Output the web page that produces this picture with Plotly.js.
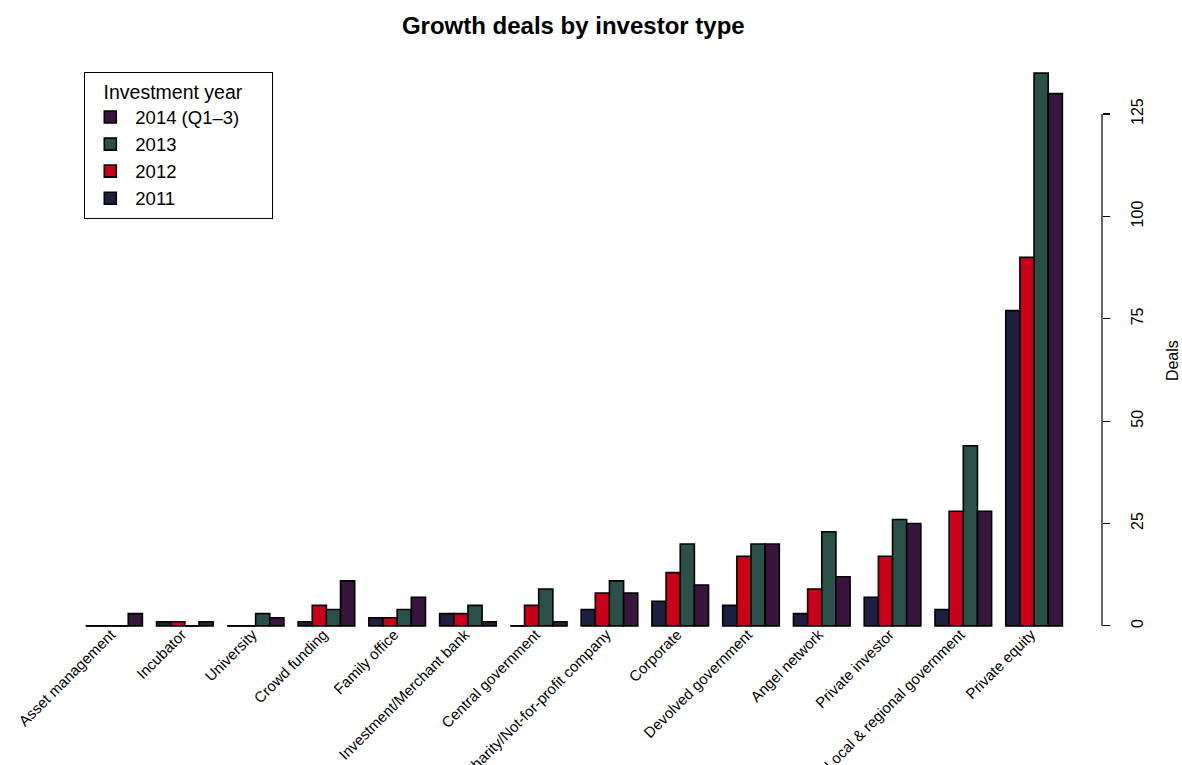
<!DOCTYPE html>
<html>
<head>
<meta charset="utf-8">
<script src="https://cdn.plot.ly/plotly-3.0.1.min.js"></script>
<style>html,body{margin:0;padding:0;background:#fff;}#chart{width:1182px;height:765px;}</style>
</head>
<body>
<div id="chart"></div>
<script>
const categories = ["Asset management","Incubator","University","Crowd funding","Family office","Investment/Merchant bank","Central government","Charity/Not-for-profit company","Corporate","Devolved government","Angel network","Private investor","Local & regional government","Private equity"];
const years = ["2011","2012","2013","2014 (Q1\u20133)"];
const deals2011 = [0,1,0,1,2,3,0,4,6,5,3,7,4,77];
const deals2012 = [0,1,0,5,2,3,5,8,13,17,9,17,28,90];
const deals2013 = [0,0,3,4,4,5,9,11,20,20,23,26,44,135];
const deals2014 = [3,1,2,11,7,1,1,8,10,20,12,25,28,130];
const colors = ["#1c1f41","#cb0019","#2a5149","#38143e"];
const yTicks = [0,25,50,75,100,125];

const series = [deals2011, deals2012, deals2013, deals2014];
const font = "Liberation Sans, Arial, Helvetica, sans-serif";
const BARGAP = 0.2;
const traces = series.map((vals, i) => ({
  type: "bar",
  name: years[i],
  x: categories,
  y: vals,
  marker: {color: colors[i], line: {color: "#000", width: 1.6}},
  hoverinfo: "x+y+name"
}));

// zero-height bars are drawn by R as a flat outline; mimic with line shapes at y = 0
const barW = (1 - BARGAP) / series.length;
const zeroShapes = [];
series.forEach((vals, i) => {
  vals.forEach((v, c) => {
    if (v === 0) {
      const x0 = c - (1 - BARGAP) / 2 + i * barW;
      zeroShapes.push({type: "line", xref: "x", yref: "y", x0: x0, x1: x0 + barW, y0: v, y1: v,
        line: {color: "#000", width: 1.6}});
    }
  });
});

const layout = {
  width: 1182, height: 765,
  margin: {l: 32, r: 80, t: 51, b: 117},
  paper_bgcolor: "#fff", plot_bgcolor: "#fff",
  font: {family: font, color: "#000"},
  title: {text: "<b>Growth deals by investor type</b>", font: {size: 24, family: font, color: "#000"}, x: 0.485, xanchor: "center", y: 0.967, yanchor: "middle"},
  barmode: "group",
  bargap: BARGAP,
  bargroupgap: 0,
  showlegend: true,
  legend: {
    x: 0.0486, y: 0.965, xanchor: "left", yanchor: "top",
    bordercolor: "#000", borderwidth: 1.3, bgcolor: "#fff",
    traceorder: "reversed",
    itemwidth: 40,
    font: {size: 18.5, family: font, color: "#000"},
    title: {text: "\u00a0\u00a0\u00a0Investment year\u00a0\u00a0\u00a0\u00a0\u00a0", font: {size: 19.5, family: font, color: "#000"}}
  },
  xaxis: {
    type: "category",
    range: [-1.16, 13.96],
    showgrid: false, zeroline: false, showline: false,
    ticks: "",
    tickangle: -45,
    ticklabelstandoff: -26,
    ticklabelshift: -3,
    tickfont: {size: 15, family: font, color: "#000"},
    fixedrange: true
  },
  yaxis: {
    side: "right",
    range: [-5.4, 140.4],
    showgrid: false, zeroline: false, showline: false,
    tickvals: yTicks,
    ticktext: yTicks.map(String),
    ticks: "outside", ticklen: 7, tickwidth: 1.2, tickcolor: "#000",
    tickangle: -90,
    ticklabelstandoff: 14,
    tickfont: {size: 16, family: font, color: "#000"},
    fixedrange: true
  },
  annotations: [{
    text: "Deals", xref: "paper", yref: "paper", x: 1.0655, y: 0.4807,
    xanchor: "center", yanchor: "middle", textangle: -90, showarrow: false,
    font: {size: 16, family: font, color: "#000"}
  }],
  shapes: [{
    type: "line", xref: "paper", yref: "y",
    x0: 1, x1: 1, y0: yTicks[0], y1: yTicks[yTicks.length - 1],
    line: {color: "#000", width: 1.2}
  }].concat(zeroShapes)
};

Plotly.newPlot("chart", traces, layout, {displayModeBar: false, staticPlot: true});
</script>
</body>
</html>
